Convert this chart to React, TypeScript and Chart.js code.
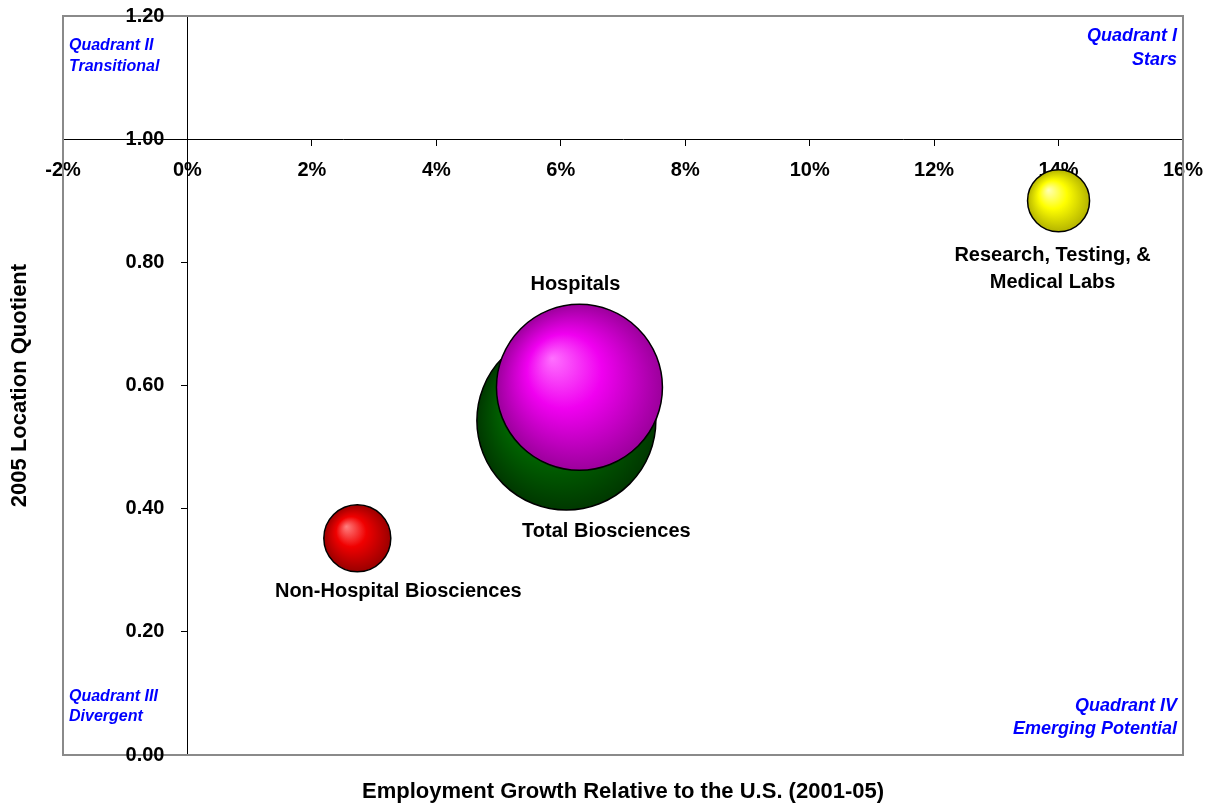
import React, { useEffect, useRef } from "react";
import { Chart, registerables } from "chart.js";

Chart.register(...registerables);

// ---------- data ----------
const categories = [
  "Research, Testing, & Medical Labs",
  "Non-Hospital Biosciences",
  "Total Biosciences",
  "Hospitals",
];
const labelLines = [
  ["Research, Testing, &", "Medical Labs"],
  ["Non-Hospital Biosciences"],
  ["Total Biosciences"],
  ["Hospitals"],
];
const employmentGrowth = [14.0, 2.73, 6.09, 6.3]; // % relative to U.S. (2001-05)
const locationQuotient = [0.9, 0.352, 0.543, 0.597]; // 2005 LQ
const bubbleSizes = [12, 14, 100, 86]; // relative employment size

const xMin = -2;
const xMax = 16;
const xStep = 2;
const yMin = 0;
const yMax = 1.2;
const yStep = 0.2;

const quadrantTopLeft = ["Quadrant II", "Transitional"];
const quadrantTopRight = ["Quadrant I", "Stars"];
const quadrantBottomLeft = ["Quadrant III", "Divergent"];
const quadrantBottomRight = ["Quadrant IV", "Emerging Potential"];
const xTitle = "Employment Growth Relative to the U.S. (2001-05)";
const yTitle = "2005 Location Quotient";

// ---------- styles ----------
const FONT = '"Liberation Sans", Arial, Helvetica, sans-serif';
const MAX_R = 89.5;
const bubbleColors = [
  ["#ffffb8", "#ffff00", "#b4b400"],
  ["#ff8080", "#f00000", "#9a0000"],
  ["#33a033", "#007000", "#003800"],
  ["#ff70ff", "#f000f0", "#9c009c"],
];
// label offsets (dx, dy of first line centre) relative to bubble centre
const labelOffsets = [
  [-6, 55],
  [41, 53],
  [40, 111],
  [-4, -103],
];

const bubbleData = employmentGrowth.map((x, i) => ({
  x,
  y: locationQuotient[i],
  r: MAX_R * Math.sqrt(bubbleSizes[i] / Math.max(...bubbleSizes)),
}));

function gradientFill(ctx: any) {
  const i = ctx.dataIndex ?? 0;
  const cols = bubbleColors[i] || bubbleColors[0];
  if (ctx.type !== "data") return cols[1];
  const chart = ctx.chart;
  const xs = chart.scales && chart.scales.x;
  const ys = chart.scales && chart.scales.y;
  const raw = ctx.raw;
  if (!xs || !ys || !raw) return cols[1];
  const cx = xs.getPixelForValue(raw.x);
  const cy = ys.getPixelForValue(raw.y);
  const r = raw.r;
  if (!isFinite(cx) || !isFinite(cy)) return cols[1];
  const g = chart.ctx.createRadialGradient(cx - 0.33 * r, cy - 0.35 * r, 0, cx, cy, r);
  g.addColorStop(0, cols[0]);
  g.addColorStop(0.45, cols[1]);
  g.addColorStop(1, cols[2]);
  return g;
}

const decorPlugin = {
  id: "decor",
  beforeDatasetsDraw(chart: any) {
    const { ctx, chartArea } = chart;
    ctx.save();
    ctx.strokeStyle = "#8a8a8a";
    ctx.lineWidth = 2;
    ctx.strokeRect(chartArea.left, chartArea.top, chartArea.right - chartArea.left, chartArea.bottom - chartArea.top);
    ctx.restore();
  },
  afterDraw(chart: any) {
    const { ctx, chartArea } = chart;
    const xs = chart.scales.x;
    const ys = chart.scales.y;
    ctx.save();

    // data labels
    const meta = chart.getDatasetMeta(0);
    ctx.fillStyle = "#000";
    ctx.font = `bold 20px ${FONT}`;
    ctx.textAlign = "center";
    ctx.textBaseline = "middle";
    meta.data.forEach((el: any, i: number) => {
      const [dx, dy] = labelOffsets[i];
      labelLines[i].forEach((line, j) => {
        ctx.fillText(line, el.x + dx, el.y + dy + j * 27);
      });
    });

    // y tick labels (left of the crossing axis)
    const x0 = xs.getPixelForValue(0);
    ctx.textAlign = "right";
    ys.ticks.forEach((t: any) => {
      ctx.fillText(Number(t.value).toFixed(2), x0 - 23, ys.getPixelForValue(t.value));
    });

    // quadrant labels
    const top = chartArea.top;
    const bottom = chartArea.bottom;
    ctx.fillStyle = "#0000ff";
    ctx.font = `italic bold 16px ${FONT}`;
    ctx.textAlign = "left";
    quadrantTopLeft.forEach((s, j) => ctx.fillText(s, chartArea.left + 6, top + 30 + j * 21));
    quadrantBottomLeft.forEach((s, j) => ctx.fillText(s, chartArea.left + 6, bottom - 58 + j * 20));
    ctx.font = `italic bold 18px ${FONT}`;
    ctx.textAlign = "right";
    quadrantTopRight.forEach((s, j) => ctx.fillText(s, chartArea.right - 6, top + 20 + j * 24));
    quadrantBottomRight.forEach((s, j) => ctx.fillText(s, chartArea.right - 6, bottom - 49 + j * 23));

    // axis titles
    ctx.fillStyle = "#000";
    ctx.font = `bold 22px ${FONT}`;
    ctx.textAlign = "center";
    ctx.fillText(xTitle, (chartArea.left + chartArea.right) / 2, 792);
    ctx.translate(20, (chartArea.top + chartArea.bottom) / 2);
    ctx.rotate(-Math.PI / 2);
    ctx.fillText(yTitle, 0, 0);
    ctx.restore();
  },
};

export default function App() {
  const ref = useRef<HTMLCanvasElement | null>(null);
  useEffect(() => {
    if (!ref.current) return;
    const chart = new Chart(ref.current, {
      type: "bubble",
      data: {
        datasets: [
          {
            label: "Biosciences",
            data: bubbleData,
            backgroundColor: gradientFill as any,
            borderColor: "#000",
            borderWidth: 1.5,
            hoverBorderWidth: 1.5,
          },
        ],
      },
      options: {
        responsive: false,
        animation: false,
        events: [],
        layout: { autoPadding: false, padding: { left: 63, top: 16, right: 24, bottom: 49 } },
        plugins: {
          legend: { display: false },
          tooltip: { enabled: false },
        },
        scales: {
          x: {
            type: "linear",
            min: xMin,
            max: xMax,
            position: { y: 1 } as any,
            z: 1,
            afterFit: (s: any) => {
              s.paddingLeft = 0;
              s.paddingRight = 0;
              s.paddingTop = 0;
              s.paddingBottom = 0;
            },
            ticks: {
              stepSize: xStep,
              autoSkip: false,
              maxRotation: 0,
              padding: 13,
              color: "#000",
              font: { family: FONT, size: 20, weight: "bold" },
              callback: (v: any) => `${Math.round(Number(v))}%`,
            },
            grid: { drawOnChartArea: false, drawTicks: true, tickLength: 6, color: "#000" },
            border: { display: true, color: "#000", width: 1 },
          },
          y: {
            type: "linear",
            min: yMin,
            max: yMax,
            position: { x: 0 } as any,
            afterFit: (s: any) => {
              s.paddingLeft = 0;
              s.paddingRight = 0;
              s.paddingTop = 0;
              s.paddingBottom = 0;
            },
            ticks: { stepSize: yStep, display: false },
            grid: { drawOnChartArea: false, drawTicks: true, tickLength: 6, color: "#000" },
            border: { display: true, color: "#000", width: 1 },
          },
        },
      },
      plugins: [decorPlugin],
    });
    return () => chart.destroy();
  }, []);

  return (
    <div style={{ position: "absolute", left: 0, top: 0, width: 1207, height: 804, background: "#fff" }}>
      <canvas ref={ref} width={1207} height={804} style={{ display: "block" }} aria-label={categories.join(", ")} />
    </div>
  );
}
